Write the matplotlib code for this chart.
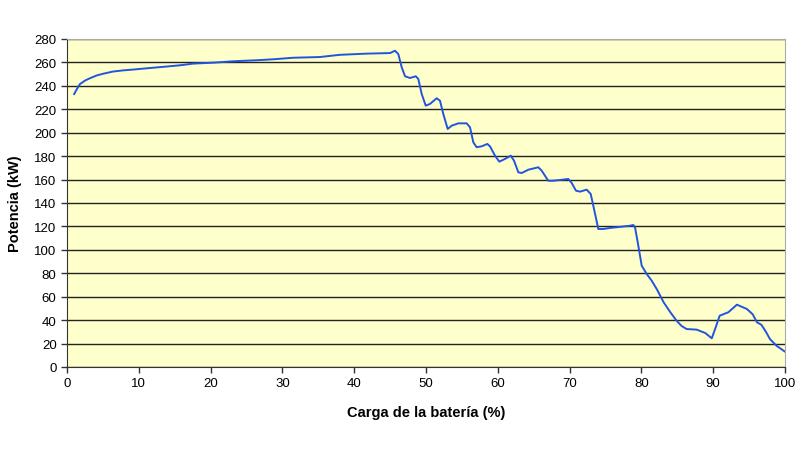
import matplotlib
matplotlib.use("Agg")
import matplotlib.pyplot as plt

carga = [1.0, 1.4, 1.8, 2.5, 3.2, 4.1, 5.0, 6.4, 7.8, 9.2, 11.5, 13.9, 15.8, 17.6, 20.4,
         23.2, 26.9, 29.0, 31.5, 35.2, 38.0, 41.7, 45.0,
         45.68, 46.14, 46.62, 47.08, 47.77, 48.57, 48.93, 49.40, 49.96, 50.56, 51.49,
         51.95, 52.41, 53.02, 53.58, 54.50, 55.67, 56.13, 56.59, 57.06, 57.76, 58.54,
         58.91, 59.61, 60.21, 61.00, 61.80, 62.26, 62.86, 63.33, 64.25, 65.64, 66.11,
         67.03, 67.73, 69.82, 70.29, 70.89, 71.45, 72.38, 72.94, 73.40, 74.00, 74.69,
         75.63, 76.56, 78.41, 78.87, 79.11, 79.57, 80.04, 80.74, 81.43, 82.13, 83.1,
         84.0, 84.9, 85.6, 86.3, 87.7, 88.9, 89.8, 90.3, 90.9, 92.1, 93.3, 94.7, 95.5,
         96.1, 96.7, 97.3, 97.9, 98.8, 100.0]
potencia = [233.0, 237.5, 241.5, 244.5, 246.5, 248.8, 250.3, 252.2, 253.2, 253.9, 255.2,
            256.5, 257.6, 259.0, 259.8, 261.0, 262.0, 262.8, 264.0, 264.6, 266.5, 267.5,
            268.0,
            270.0, 267.2, 255.8, 248.2, 246.7, 248.2, 245.9, 233.1, 223.1, 224.6, 229.4,
            227.3, 216.0, 203.2, 206.0, 208.0, 208.0, 204.6, 191.8, 187.6, 188.4, 190.4,
            188.4, 180.4, 175.3, 177.6, 180.4, 176.1, 166.2, 165.6, 168.4, 170.5, 167.6,
            159.0, 159.0, 160.5, 157.1, 150.5, 149.7, 151.4, 147.7, 134.9, 117.8, 117.8,
            118.7, 119.3, 120.6, 121.2, 119.3, 103.6, 86.5, 79.4, 73.7, 66.6, 55.2,
            47.0, 39.5, 35.0, 32.4, 31.9, 29.0, 24.5, 33.0, 43.8, 46.7, 53.2, 49.5, 45.0,
            38.1, 36.1, 30.5, 23.9, 18.2, 13.1]

x_ticks = list(range(0, 101, 10))
y_ticks = list(range(0, 281, 20))

plt.rcParams['font.family'] = ['Liberation Sans', 'DejaVu Sans']

fig = plt.figure(figsize=(8, 4.52), dpi=100)
ax = fig.add_axes([67/800, 1-368/452, (785-67)/800, (368-40)/452])
ax.set_facecolor('#FFFFCC')
ax.plot(carga, potencia, color='#2255DD', lw=1.4, solid_joinstyle='round')
ax.set_xlim(0, 100)
ax.set_ylim(0, 280)
ax.set_xticks(x_ticks)
ax.set_yticks(y_ticks)
ax.yaxis.grid(True, color='#222222', lw=1.0)
ax.set_axisbelow(True)
for s in ['top', 'right']:
    ax.spines[s].set_color('#AAAAAA')
for s in ['left', 'bottom']:
    ax.spines[s].set_color('#333333')
ax.tick_params(direction='out', length=4, width=1, color='#333333', labelsize=9.5)
ax.set_xlabel('Carga de la batería (%)', fontsize=10.5, fontweight='bold', labelpad=11)
ax.set_ylabel('Potencia (kW)', fontsize=10.5, fontweight='bold', labelpad=9)
fig.savefig('out.png', dpi=100)
